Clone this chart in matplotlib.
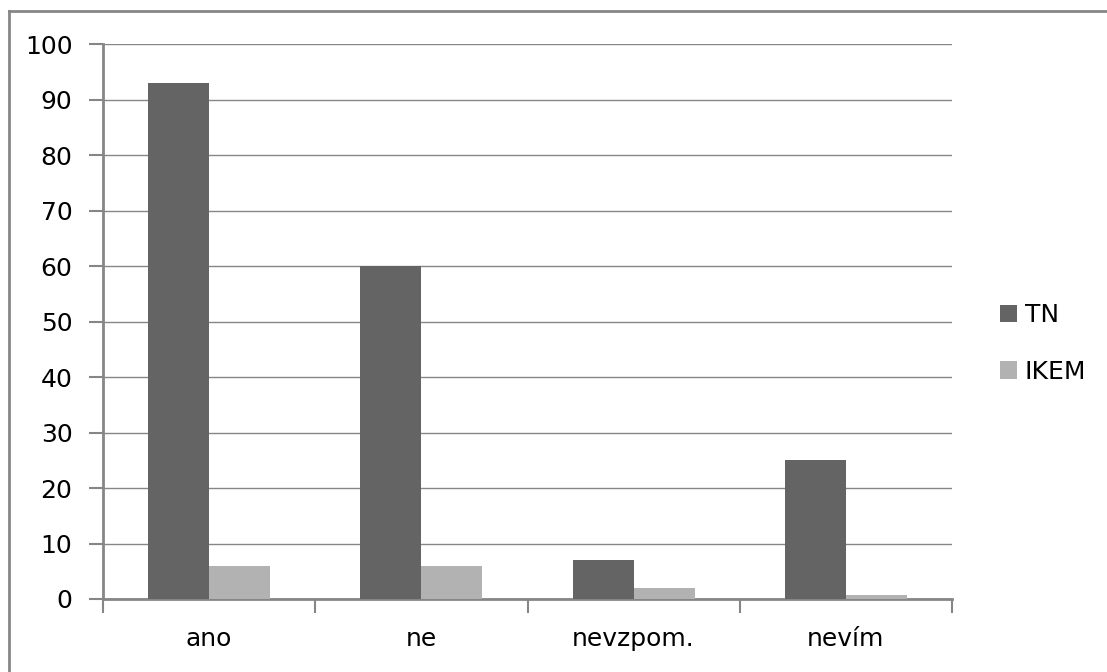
import matplotlib.pyplot as plt
import numpy as np
from matplotlib.lines import Line2D

categories = ['ano', 'ne', 'nevzpom.', 'nevím']
tn = [93, 60, 7, 25]
ikem = [6, 6, 2, 0.7]
series_names = ['TN', 'IKEM']
yticks = [0, 10, 20, 30, 40, 50, 60, 70, 80, 90, 100]

W, H = 1107, 672
fig = plt.figure(figsize=(W / 100, H / 100), dpi=100)
fig.patch.set_facecolor('white')
grid = '#868686'

# outer chart border: only top and left edges fall inside the image
fx, fy = 8.5 / W, 1 - 10.5 / H
fig.lines.append(Line2D([fx, 1], [fy, fy], transform=fig.transFigure, color=grid, linewidth=2))
fig.lines.append(Line2D([fx, fx], [0, fy], transform=fig.transFigure, color=grid, linewidth=2))

ax = fig.add_axes([103 / W, 1 - 599 / H, (952 - 103) / W, (599 - 44) / H])
x = np.arange(len(categories))
bw = 0.2875
ax.bar(x - bw / 2, tn, bw, color='#646464', label=series_names[0], zorder=3)
ax.bar(x + bw / 2, ikem, bw, color='#b2b2b2', label=series_names[1], zorder=3)

ax.set_xlim(-0.5, len(categories) - 0.5)
ax.set_ylim(0, 100)
ax.set_yticks(yticks)
ax.yaxis.grid(True, color=grid, linewidth=1.0, zorder=0)
ax.set_xticks(x)
ax.set_xticklabels(categories)
ax.set_xticks(np.arange(-0.5, len(categories)), minor=True)
ax.tick_params(axis='x', which='major', length=0, pad=20, labelsize=18)
ax.tick_params(axis='x', which='minor', length=10, width=1.5, color=grid)
ax.tick_params(axis='y', length=10, width=1.5, color=grid, pad=12, labelsize=18)

for s in ['top', 'right']:
    ax.spines[s].set_visible(False)
for s in ['left', 'bottom']:
    ax.spines[s].set_color(grid)
    ax.spines[s].set_linewidth(2)

ax.legend(loc='center left', bbox_to_anchor=(1.03, 0.46), frameon=False,
          fontsize=18, handlelength=0.7, handleheight=0.7, handletextpad=0.3,
          labelspacing=1.3)

fig.savefig('out.png', dpi=100)
